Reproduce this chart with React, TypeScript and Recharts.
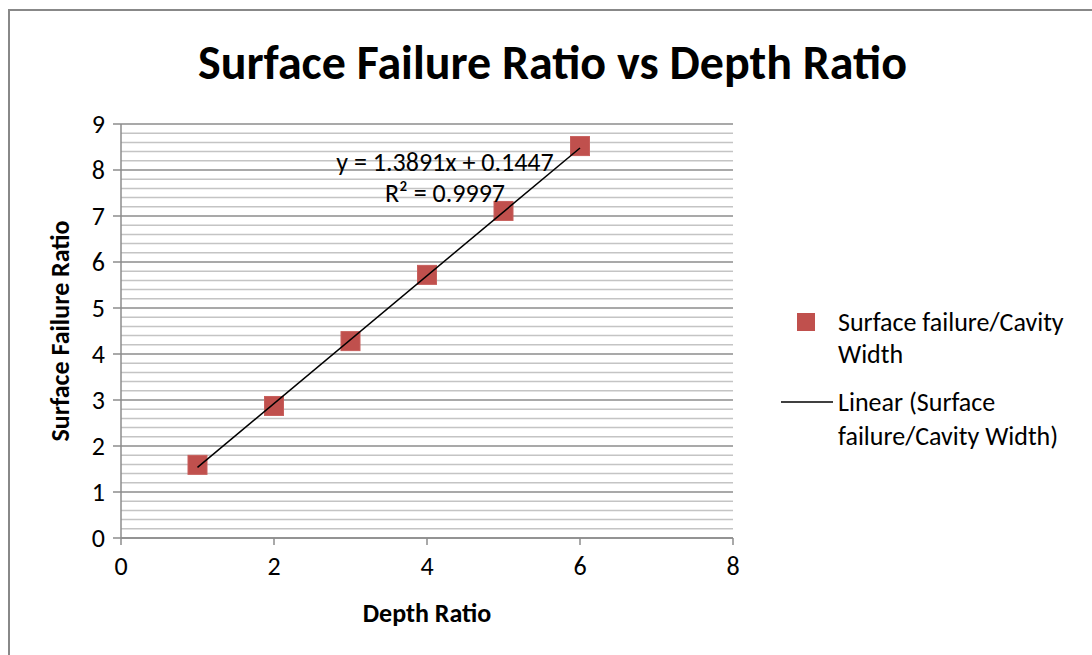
import React from "react";
import {
  CartesianGrid,
  ReferenceLine,
  Scatter,
  ScatterChart,
  XAxis,
  YAxis,
} from "recharts";

const depthRatio = [1, 2, 3, 4, 5, 6];
const failureRatio = [1.59, 2.87, 4.28, 5.72, 7.11, 8.52];

const xTicks = [0, 2, 4, 6, 8];
const yTicks = [0, 1, 2, 3, 4, 5, 6, 7, 8, 9];

// linear fit shown on the chart
const slope = 1.3891;
const intercept = 0.1447;
const rSquared = 0.9997;

const points = depthRatio.map((x, i) => ({ x, y: failureRatio[i] }));
const trend = [depthRatio[0], depthRatio[depthRatio.length - 1]].map((x) => ({
  x,
  y: slope * x + intercept,
}));

// minor gridlines every 0.2
const minorLines: number[] = [];
for (let i = 1; i < 45; i++) if (i % 5 !== 0) minorLines.push(i / 5);

const FONT = "Carlito, Calibri, 'Open Sans', sans-serif";
const RED = "#C0504D";
const TXT = 26;

const SquareDot = (props: any) => {
  const { cx, cy } = props;
  if (cx == null || cy == null) return <g />;
  return (
    <rect
      x={cx - 9.5}
      y={cy - 9.5}
      width={19}
      height={19}
      fill={RED}
      stroke="#C75F5C"
      strokeWidth={1}
    />
  );
};

const NoDot = () => <g />;

const LegendBox = () => (
  <svg
    width={320}
    height={160}
    style={{ position: "absolute", left: 772, top: 302, fontFamily: FONT, fontSize: TXT }}
  >
    <rect x={25} y={11} width={18} height={18} fill={RED} />
    <text x={66} y={29} fill="#000">Surface failure/Cavity</text>
    <text x={66} y={61} fill="#000">Width</text>
    <line x1={9} x2={61} y1={100} y2={100} stroke="#000" strokeWidth={1.5} />
    <text x={66} y={109} fill="#000">Linear (Surface</text>
    <text x={66} y={143} fill="#000">failure/Cavity Width)</text>
  </svg>
);

// trendline equation, drawn above the grid
const FitLabel = () => (
  <svg
    width={300}
    height={70}
    style={{ position: "absolute", left: 295, top: 140, fontFamily: FONT, fontSize: TXT }}
  >
    <text x={150} y={31} textAnchor="middle" fill="#000">
      {`y = ${slope}x + ${intercept}`}
    </text>
    <text x={150} y={62} textAnchor="middle" fill="#000">
      {`R² = ${rSquared}`}
    </text>
  </svg>
);

export default function App() {
  return (
    <div
      style={{
        position: "absolute",
        left: 0,
        top: 0,
        width: 1092,
        height: 655,
        background: "#fff",
        overflow: "hidden",
      }}
    >
      <div
        style={{
          position: "absolute",
          left: 8,
          top: 9,
          width: 1200,
          height: 800,
          borderLeft: "2px solid #888",
          borderTop: "2px solid #888",
        }}
      />
      <div
        style={{
          position: "absolute",
          left: 0,
          top: 34,
          width: 1105,
          textAlign: "center",
          fontFamily: FONT,
          fontWeight: 700,
          fontSize: 48,
          lineHeight: "58px",
          color: "#000",
        }}
      >
        Surface Failure Ratio vs Depth Ratio
      </div>
      <div style={{ position: "absolute", left: 0, top: 0 }}>
        <ScatterChart
          width={1092}
          height={655}
          margin={{ top: 124, right: 359, bottom: 77, left: 61 }}
        >
          {minorLines.map((v) => (
            <ReferenceLine
              key={v}
              y={v}
              stroke="#C4C4C4"
              strokeWidth={1.5}
              ifOverflow="hidden"
            />
          ))}
          <CartesianGrid
            vertical={false}
            horizontalValues={yTicks}
            stroke="#8C8C8C"
            strokeWidth={1.5}
          />
          <XAxis
            type="number"
            dataKey="x"
            domain={[0, 8]}
            ticks={xTicks}
            height={40}
            stroke="#8C8C8C"
            strokeWidth={1.5}
            tickSize={7}
            tick={{ fill: "#000", fontSize: TXT, fontFamily: FONT }}
            tickMargin={12}
            label={{
              value: "Depth Ratio",
              position: "insideBottom",
              offset: -44,
              fill: "#000",
              fontSize: TXT,
              fontWeight: 700,
              fontFamily: FONT,
            }}
          />
          <YAxis
            type="number"
            dataKey="y"
            domain={[0, 9]}
            ticks={yTicks}
            width={60}
            stroke="#8C8C8C"
            strokeWidth={1.5}
            tickSize={8}
            tick={{ fill: "#000", fontSize: TXT, fontFamily: FONT }}
            tickMargin={8}
            label={{
              value: "Surface Failure Ratio",
              angle: -90,
              position: "insideLeft",
              offset: -1,
              style: { textAnchor: "middle" },
              fill: "#000",
              fontSize: TXT,
              fontWeight: 700,
              fontFamily: FONT,
            }}
          />
          <Scatter
            name="Surface failure/Cavity Width"
            data={points}
            shape={SquareDot}
            isAnimationActive={false}
          />
          <Scatter
            name="Linear (Surface failure/Cavity Width)"
            data={trend}
            line={{ stroke: "#000", strokeWidth: 1.5 }}
            shape={NoDot}
            isAnimationActive={false}
          />
        </ScatterChart>
      </div>
      <FitLabel />
      <LegendBox />
    </div>
  );
}
